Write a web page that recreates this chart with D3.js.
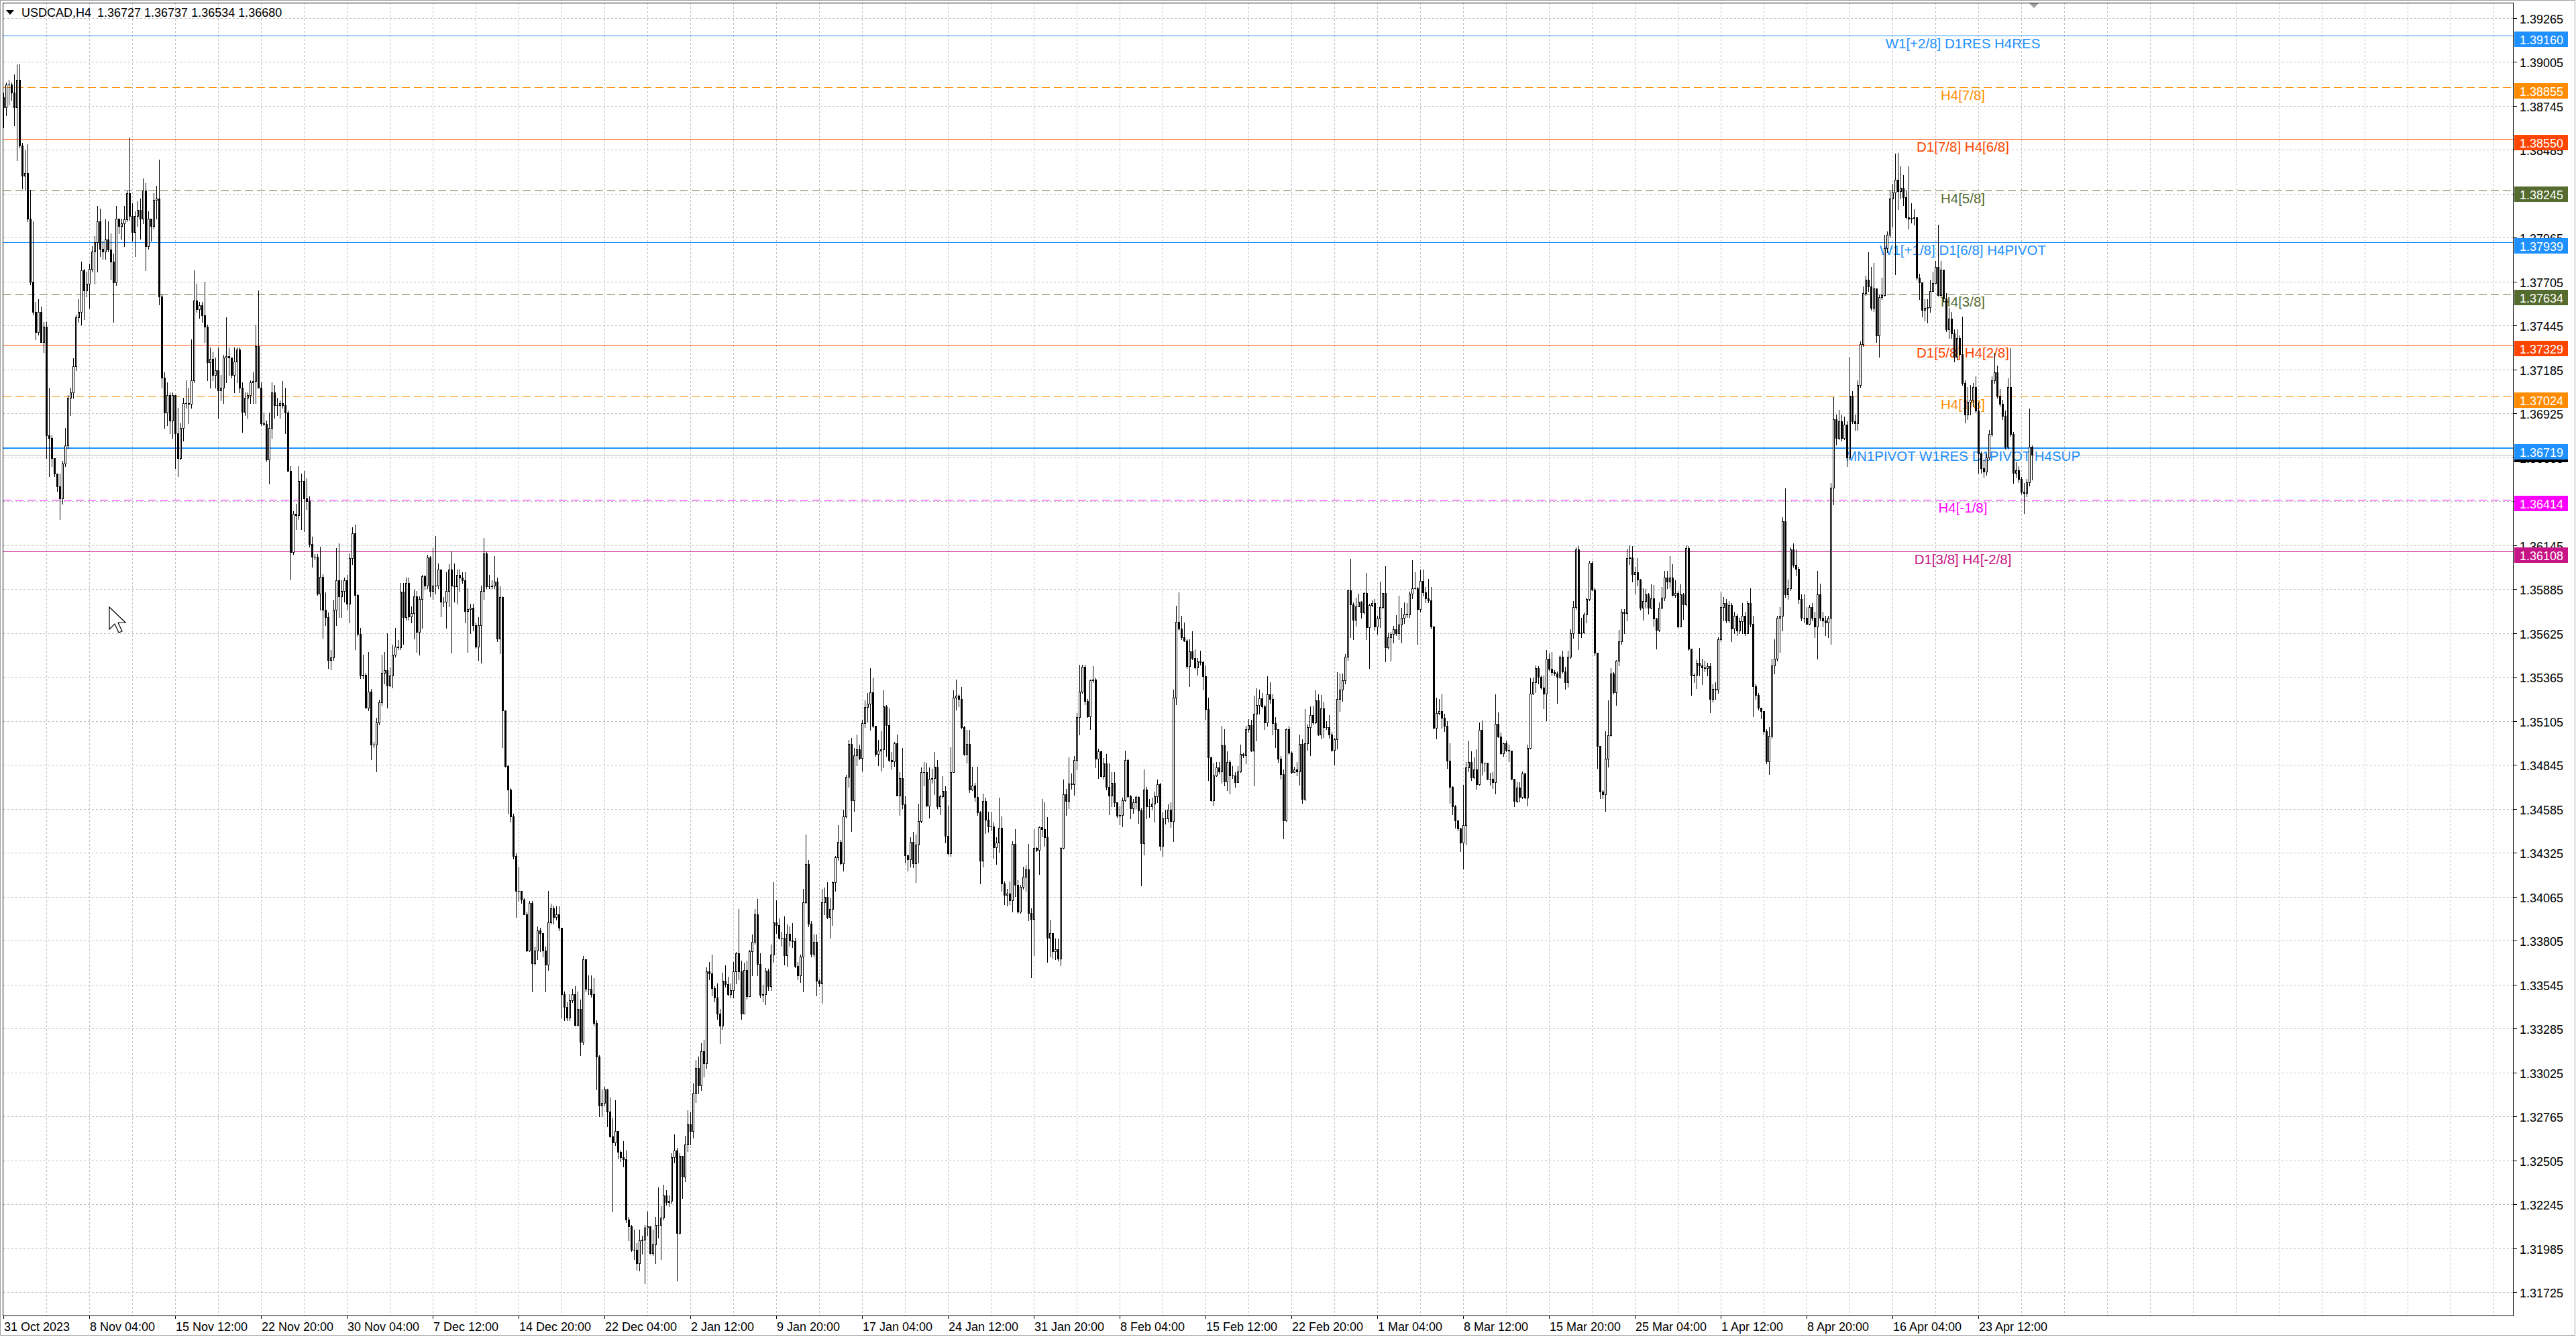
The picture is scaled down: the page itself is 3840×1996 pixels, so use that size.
<!DOCTYPE html>
<html><head><meta charset="utf-8">
<script src="https://cdn.jsdelivr.net/npm/d3@7"></script>
<style>html,body{margin:0;padding:0;background:#fff;overflow:hidden}svg{display:block}</style>
</head><body>
<svg id="c" width="3840" height="1996"></svg>
<script>
// ---------------- DATA ----------------
const symbolTitle = "USDCAD,H4";
const headerValues = ["1.36727", "1.36737", "1.36534", "1.36680"];
const firstOpen = 1.38794;
const closes = [
1.38735,1.38869,1.38869,1.38824,1.38735,1.38899,1.38511,1.38332,1.38347,1.38078,
1.37704,1.37525,1.37406,1.37525,1.37346,1.37436,1.36793,1.36778,1.36659,1.36569,
1.36495,1.36420,1.36629,1.36734,1.37017,1.37047,1.37202,1.37495,1.37525,1.37770,
1.37651,1.37690,1.37779,1.37884,1.37938,1.38063,1.37899,1.37884,1.37953,1.37893,
1.37824,1.37699,1.38078,1.38033,1.38048,1.38072,1.38227,1.38093,1.37997,1.38093,
1.38128,1.38078,1.38242,1.37914,1.38078,1.38033,1.38188,1.38197,1.37615,1.37137,
1.36928,1.37032,1.36883,1.37032,1.36808,1.36659,1.36838,1.36987,1.36987,1.36981,
1.37122,1.37594,1.37540,1.37564,1.37505,1.37436,1.37226,1.37247,1.37152,1.37181,
1.37062,1.37077,1.37256,1.37265,1.37256,1.37152,1.37232,1.37301,1.37077,1.36934,
1.37017,1.37032,1.37107,1.37116,1.37322,1.37077,1.36868,1.36862,1.36653,1.36838,
1.37047,1.36972,1.36972,1.36987,1.36972,1.36928,1.36584,1.36106,1.36330,1.36324,
1.36524,1.36524,1.36420,1.36405,1.36151,1.36076,1.36076,1.35858,1.35957,1.35763,
1.35718,1.35464,1.35479,1.35763,1.35938,1.35844,1.35875,1.35938,1.35797,1.36070,
1.36214,1.35850,1.35618,1.35373,1.35379,1.35184,1.35279,1.34965,1.34965,1.35097,
1.35216,1.35388,1.35404,1.35316,1.35373,1.35498,1.35545,1.35539,1.35869,1.35718,
1.35922,1.35724,1.35743,1.35844,1.35630,1.35828,1.35963,1.35906,1.36073,1.35875,
1.35906,1.35906,1.36001,1.35812,1.35812,1.35875,1.36001,1.35906,1.35900,1.35969,
1.35953,1.35938,1.35756,1.35765,1.35775,1.35671,1.35545,1.35671,1.35875,1.36095,
1.35900,1.35900,1.35906,1.35931,1.35592,1.35837,1.35169,1.34839,1.34698,1.34541,
1.34306,1.34101,1.34101,1.34048,1.33960,1.33747,1.34029,1.33671,1.33747,1.33866,
1.33850,1.33747,1.33662,1.33913,1.33998,1.33945,1.33960,1.33882,1.33489,1.33411,
1.33348,1.33452,1.33489,1.33307,1.33401,1.33207,1.33693,1.33521,1.33521,1.33489,
1.33317,1.33119,1.32830,1.32846,1.32924,1.32792,1.32648,1.32610,1.32679,1.32554,
1.32522,1.32510,1.32155,1.32114,1.31976,1.31976,1.31898,1.32030,1.32036,1.32108,
1.32114,1.31957,1.32008,1.32124,1.32124,1.32165,1.32297,1.32256,1.32265,1.32522,
1.32563,1.32077,1.32532,1.32407,1.32600,1.32720,1.32680,1.32900,1.33050,1.32950,
1.33150,1.33080,1.33624,1.33611,1.33525,1.33467,1.33373,1.33300,1.33569,1.33548,
1.33490,1.33514,1.33624,1.33730,1.33624,1.33373,1.33632,1.33475,1.33741,1.33796,
1.33961,1.33668,1.33486,1.33490,1.33628,1.33537,1.33721,1.33914,1.33898,1.33820,
1.33820,1.33718,1.33847,1.33804,1.33800,1.33655,1.33600,1.33710,1.34032,1.34259,
1.33906,1.33726,1.33796,1.33569,1.33553,1.34032,1.34063,1.33946,1.33993,1.34150,
1.34299,1.34390,1.34264,1.34542,1.34773,1.34970,1.34636,1.34903,1.34939,1.34887,
1.35091,1.35186,1.35206,1.35275,1.35076,1.34911,1.34930,1.34939,1.35193,1.35080,
1.34872,1.34864,1.34974,1.34663,1.34766,1.34613,1.34311,1.34286,1.34390,1.34264,
1.34374,1.34511,1.34801,1.34804,1.34605,1.34762,1.34766,1.34835,1.34600,1.34660,
1.34691,1.34424,1.34322,1.34804,1.35244,1.35253,1.35233,1.35068,1.34911,1.34970,
1.34699,1.34723,1.34657,1.34562,1.34280,1.34631,1.34522,1.34479,1.34482,1.34358,
1.34385,1.34471,1.34145,1.34076,1.34084,1.34045,1.34376,1.34137,1.33977,1.34123,
1.34181,1.34225,1.33969,1.33933,1.34353,1.34341,1.34477,1.34465,1.34417,1.33821,
1.33850,1.33743,1.33756,1.33697,1.34353,1.34672,1.34633,1.34736,1.34730,1.34872,
1.35126,1.35280,1.35427,1.35221,1.35133,1.35345,1.35351,1.34881,1.34925,1.34778,
1.34855,1.34713,1.34665,1.34739,1.34624,1.34544,1.34548,1.34637,1.34872,1.34660,
1.34589,1.34624,1.34654,1.34576,1.34381,1.34700,1.34598,1.34598,1.34615,1.34660,
1.34730,1.34367,1.34527,1.34530,1.34580,1.34513,1.35244,1.35693,1.35652,1.35599,
1.35581,1.35430,1.35516,1.35475,1.35422,1.35457,1.35452,1.35368,1.35174,1.34890,
1.34637,1.34784,1.34828,1.34807,1.34961,1.34748,1.34863,1.34784,1.34784,1.34743,
1.34807,1.34908,1.34902,1.35058,1.35080,1.34931,1.35147,1.35200,1.35239,1.35191,
1.35094,1.35262,1.35236,1.35090,1.35058,1.34881,1.34789,1.34518,1.35055,1.34917,
1.34801,1.34819,1.34807,1.34970,1.34642,1.34973,1.35067,1.35138,1.35097,1.35227,
1.35023,1.35179,1.35067,1.35067,1.35023,1.34934,1.34996,1.35236,1.35289,1.35345,
1.35484,1.35877,1.35794,1.35705,1.35783,1.35810,1.35748,1.35862,1.35660,1.35791,
1.35804,1.35665,1.35712,1.35778,1.35860,1.35541,1.35599,1.35620,1.35649,1.35625,
1.35675,1.35715,1.35739,1.35735,1.35857,1.35889,1.35891,1.35768,1.35932,1.35866,
1.35831,1.35818,1.35662,1.35063,1.35151,1.35165,1.35122,1.35076,1.34870,1.34714,
1.34598,1.34517,1.34467,1.34385,1.34488,1.34830,1.34862,1.34770,1.34817,1.34730,
1.35054,1.34857,1.34857,1.34764,1.34764,1.34743,1.35086,1.35011,1.34915,1.34971,
1.34932,1.34928,1.34764,1.34633,1.34712,1.34655,1.34793,1.34651,1.34945,1.35267,
1.35336,1.35419,1.35366,1.35304,1.35267,1.35471,1.35412,1.35392,1.35386,1.35366,
1.35485,1.35399,1.35336,1.35485,1.35625,1.35778,1.36120,1.35623,1.35627,1.35735,
1.35827,1.36041,1.35883,1.35507,1.34958,1.34688,1.34672,1.34883,1.35020,1.35386,
1.35274,1.35462,1.35577,1.35752,1.35744,1.36070,1.36073,1.35972,1.35985,1.35941,
1.35774,1.35814,1.35853,1.35774,1.35831,1.35712,1.35642,1.35774,1.35833,1.35952,
1.35928,1.35952,1.35849,1.35860,1.35665,1.35853,1.35794,1.36126,1.35533,1.35375,
1.35378,1.35450,1.35435,1.35422,1.35417,1.35428,1.35233,1.35296,1.35291,1.35587,
1.35777,1.35802,1.35701,1.35790,1.35650,1.35726,1.35638,1.35696,1.35726,1.35625,
1.35802,1.35681,1.35309,1.35258,1.35182,1.35164,1.35043,1.34866,1.35017,1.35435,
1.35473,1.35714,1.35726,1.36288,1.35853,1.35891,1.36119,1.36030,1.36005,1.35828,
1.35714,1.35714,1.35681,1.35777,1.35714,1.35663,1.35853,1.35714,1.35701,1.35688,
1.35714,1.36486,1.36891,1.36777,1.36878,1.36777,1.36860,1.36663,1.37030,1.36878,
1.36866,1.37093,1.37334,1.37638,1.37714,1.37676,1.37549,1.37663,1.37385,1.37612,
1.37625,1.37904,1.37980,1.38195,1.38233,1.38309,1.38238,1.38258,1.38202,1.38086,
1.38076,1.38081,1.38086,1.37726,1.37701,1.37536,1.37549,1.37554,1.37650,1.37696,
1.37790,1.37625,1.37777,1.37605,1.37422,1.37486,1.37397,1.37258,1.37372,1.37276,
1.37106,1.36916,1.36992,1.37005,1.37081,1.36942,1.36688,1.36600,1.36582,1.36663,
1.36802,1.37119,1.37169,1.37030,1.36980,1.36911,1.36726,1.37081,1.36802,1.36574,
1.36587,1.36536,1.36461,1.36455,1.36516,1.36727,1.36680];
const highs = [
1.38824,1.38884,1.38899,1.38884,1.38929,1.38989,1.38989,1.38526,1.38481,1.38517,
1.38248,1.38063,1.37585,1.37600,1.37555,1.37466,1.37466,1.37077,1.36793,1.36614,
1.36569,1.36569,1.36644,1.36838,1.37032,1.37077,1.37250,1.37510,1.37600,1.37824,
1.37779,1.37764,1.37809,1.37914,1.37973,1.38152,1.38137,1.37944,1.38072,1.38063,
1.37988,1.37869,1.38152,1.38048,1.38078,1.38152,1.38242,1.38556,1.38167,1.38122,
1.38182,1.38197,1.38316,1.38287,1.38122,1.38063,1.38227,1.38272,1.38427,1.37630,
1.37166,1.37107,1.37047,1.37047,1.37002,1.36958,1.36868,1.37017,1.37122,1.37077,
1.37361,1.37770,1.37690,1.37585,1.37585,1.37704,1.37451,1.37316,1.37286,1.37256,
1.37316,1.37152,1.37271,1.37495,1.37316,1.37256,1.37316,1.37316,1.37316,1.37107,
1.37047,1.37047,1.37122,1.37166,1.37451,1.37654,1.37107,1.36928,1.36883,1.36928,
1.37107,1.37092,1.37017,1.37002,1.37116,1.37077,1.36943,1.36614,1.36345,1.36390,
1.36614,1.36569,1.36584,1.36539,1.36435,1.36196,1.36091,1.36091,1.36136,1.35972,
1.35867,1.35748,1.35524,1.35823,1.36126,1.36157,1.35938,1.35953,1.35969,1.36095,
1.36252,1.36267,1.35859,1.35655,1.35498,1.35388,1.35514,1.35294,1.34980,1.35122,
1.35231,1.35498,1.35514,1.35624,1.35420,1.35555,1.35655,1.35586,1.35922,1.35922,
1.35953,1.35953,1.35781,1.35881,1.35875,1.35844,1.35969,1.35969,1.36088,1.36079,
1.36126,1.36198,1.36038,1.35938,1.35837,1.35985,1.36032,1.36110,1.36038,1.36001,
1.36001,1.35985,1.35985,1.35891,1.35797,1.35797,1.35687,1.35718,1.35906,1.36189,
1.36110,1.35969,1.35938,1.36079,1.35953,1.35900,1.35844,1.35169,1.34845,1.34707,
1.34557,1.34321,1.34243,1.34070,1.34054,1.33976,1.34039,1.34039,1.33772,1.33891,
1.33882,1.33841,1.33772,1.34101,1.34023,1.34007,1.34007,1.34007,1.33882,1.33505,
1.33442,1.33489,1.33521,1.33536,1.33505,1.33458,1.33715,1.33693,1.33599,1.33599,
1.33584,1.33332,1.33128,1.32924,1.32940,1.32930,1.32877,1.32752,1.32861,1.32626,
1.32563,1.32617,1.32563,1.32171,1.32124,1.32093,1.32014,1.32093,1.32061,1.32124,
1.32202,1.32114,1.32093,1.32171,1.32344,1.32234,1.32359,1.32328,1.32297,1.32548,
1.32657,1.32579,1.32548,1.32485,1.32650,1.32800,1.32790,1.32960,1.33100,1.33120,
1.33200,1.33220,1.33647,1.33679,1.33721,1.33537,1.33553,1.33400,1.33616,1.33658,
1.33592,1.33553,1.33679,1.33737,1.33993,1.33686,1.33674,1.33686,1.33749,1.33843,
1.33993,1.34051,1.33730,1.33542,1.33643,1.33639,1.33781,1.34150,1.34044,1.33938,
1.33859,1.33950,1.33903,1.33888,1.33909,1.33820,1.33679,1.33721,1.34110,1.34432,
1.34283,1.33922,1.33843,1.33843,1.33577,1.34110,1.34118,1.34150,1.34055,1.34157,
1.34307,1.34487,1.34401,1.34581,1.34785,1.34992,1.35005,1.34945,1.35024,1.34966,
1.35112,1.35225,1.35272,1.35419,1.35358,1.35055,1.34992,1.35044,1.35288,1.35201,
1.35178,1.34923,1.34981,1.35024,1.34801,1.34945,1.34660,1.34314,1.34416,1.34448,
1.34432,1.34616,1.34829,1.34861,1.34856,1.34829,1.34820,1.34923,1.34872,1.34668,
1.34777,1.34719,1.34605,1.34950,1.35288,1.35350,1.35264,1.35306,1.35076,1.35052,
1.35052,1.34832,1.34738,1.34835,1.34573,1.34675,1.34652,1.34566,1.34566,1.34503,
1.34416,1.34652,1.34542,1.34157,1.34110,1.34155,1.34394,1.34465,1.34163,1.34137,
1.34243,1.34252,1.34376,1.33995,1.34465,1.34358,1.34482,1.34642,1.34624,1.34535,
1.33928,1.33832,1.33818,1.33818,1.34358,1.34757,1.34704,1.34890,1.34796,1.34899,
1.35150,1.35439,1.35439,1.35439,1.35236,1.35351,1.35430,1.35356,1.34943,1.34931,
1.34885,1.34908,1.34855,1.34801,1.34801,1.34624,1.34598,1.34651,1.34931,1.34881,
1.34669,1.34642,1.34665,1.34660,1.34589,1.34819,1.34713,1.34642,1.34651,1.34686,
1.34757,1.34739,1.34562,1.34580,1.34612,1.34624,1.35292,1.35788,1.35865,1.35728,
1.35687,1.35590,1.35590,1.35634,1.35528,1.35475,1.35519,1.35462,1.35434,1.35244,
1.34895,1.34855,1.34863,1.34860,1.35076,1.35058,1.34925,1.34872,1.34837,1.34801,
1.34837,1.34966,1.34917,1.35076,1.35115,1.35111,1.35253,1.35298,1.35289,1.35271,
1.35200,1.35368,1.35333,1.35262,1.35129,1.35058,1.34899,1.34819,1.35062,1.35076,
1.34925,1.34832,1.34863,1.35023,1.34996,1.35174,1.35085,1.35191,1.35196,1.35285,
1.35262,1.35257,1.35218,1.35103,1.35138,1.35041,1.35005,1.35395,1.35386,1.35386,
1.35501,1.35882,1.36065,1.35806,1.35833,1.35857,1.35814,1.35866,1.35981,1.35800,
1.35820,1.35827,1.35728,1.35928,1.35862,1.36020,1.35629,1.35633,1.35669,1.35731,
1.35847,1.35774,1.35807,1.35804,1.35870,1.36055,1.35985,1.35899,1.36002,1.36002,
1.35897,1.35945,1.35899,1.35669,1.35241,1.35234,1.35261,1.35149,1.35103,1.34971,
1.34717,1.34606,1.34510,1.34471,1.34727,1.34862,1.34988,1.34925,1.34888,1.34938,
1.35096,1.35107,1.34859,1.34830,1.34800,1.34804,1.35261,1.35155,1.35037,1.34978,
1.34984,1.34965,1.34925,1.34760,1.34743,1.34741,1.34807,1.34800,1.34965,1.35359,
1.35362,1.35432,1.35428,1.35375,1.35373,1.35524,1.35504,1.35511,1.35406,1.35396,
1.35494,1.35520,1.35425,1.35520,1.35649,1.35814,1.36130,1.36139,1.35715,1.35748,
1.35833,1.36051,1.36051,1.35893,1.35471,1.34954,1.34695,1.35043,1.35228,1.35419,
1.35392,1.35467,1.35643,1.35765,1.35765,1.36123,1.36143,1.36139,1.36018,1.36068,
1.35945,1.35889,1.35886,1.35862,1.35912,1.35910,1.35715,1.35807,1.35899,1.35994,
1.35991,1.36081,1.36031,1.35936,1.35873,1.35915,1.35860,1.36143,1.36139,1.35533,
1.35386,1.35470,1.35536,1.35473,1.35461,1.35448,1.35448,1.35321,1.35334,1.35600,
1.35866,1.35840,1.35828,1.35815,1.35802,1.35752,1.35739,1.35714,1.35802,1.35752,
1.35815,1.35891,1.35726,1.35321,1.35271,1.35182,1.35157,1.35055,1.35068,1.35473,
1.35587,1.35726,1.35777,1.36309,1.36481,1.35942,1.36131,1.36157,1.36119,1.36018,
1.35853,1.35853,1.35777,1.35790,1.35802,1.35752,1.35992,1.35916,1.35752,1.35726,
1.35726,1.36511,1.37023,1.36916,1.36947,1.36916,1.36904,1.36878,1.37258,1.37055,
1.36916,1.37119,1.37352,1.37676,1.37739,1.37878,1.37790,1.37815,1.37663,1.37625,
1.37726,1.37980,1.38000,1.38245,1.38283,1.38460,1.38466,1.38385,1.38334,1.38245,
1.38385,1.38169,1.38131,1.38068,1.37752,1.37701,1.37600,1.37600,1.37714,1.37764,
1.37828,1.38043,1.37828,1.37777,1.37638,1.37549,1.37524,1.37422,1.37422,1.37385,
1.37498,1.37119,1.37081,1.37093,1.37106,1.37144,1.36992,1.36701,1.36650,1.36688,
1.36828,1.37144,1.37283,1.37207,1.37068,1.37005,1.36942,1.37131,1.37309,1.36815,
1.36638,1.36612,1.36549,1.36511,1.36536,1.36954,1.36737];
const lows = [
1.38615,1.38690,1.38750,1.38780,1.38630,1.38421,1.38496,1.38257,1.38242,1.38063,
1.37689,1.37510,1.37361,1.37391,1.37346,1.37287,1.36659,1.36554,1.36614,1.36554,
1.36465,1.36300,1.36390,1.36614,1.36719,1.36913,1.37017,1.37181,1.37466,1.37451,
1.37481,1.37615,1.37549,1.37764,1.37690,1.37764,1.37854,1.37839,1.37839,1.37884,
1.37719,1.37466,1.37684,1.37988,1.37958,1.37914,1.38063,1.38069,1.37944,1.37854,
1.38033,1.37958,1.38048,1.37773,1.37899,1.37944,1.38018,1.38078,1.37570,1.37077,
1.36838,1.36853,1.36808,1.36778,1.36599,1.36554,1.36653,1.36763,1.36958,1.36868,
1.36958,1.37107,1.37525,1.37490,1.37466,1.37346,1.37122,1.37077,1.37122,1.37077,
1.36898,1.37002,1.36987,1.37107,1.37152,1.37137,1.37047,1.37107,1.37047,1.36814,
1.36913,1.36898,1.36987,1.36987,1.36987,1.37077,1.36853,1.36853,1.36644,1.36510,
1.36778,1.36898,1.36913,1.36898,1.36958,1.36808,1.36584,1.35942,1.36091,1.36241,
1.36300,1.36241,1.36226,1.36360,1.36136,1.36016,1.36061,1.35852,1.35763,1.35598,
1.35673,1.35419,1.35410,1.35464,1.35671,1.35718,1.35718,1.35812,1.35765,1.35687,
1.36032,1.35530,1.35608,1.35357,1.35357,1.35184,1.35169,1.34877,1.34949,1.34808,
1.35084,1.35200,1.35326,1.35184,1.35310,1.35304,1.35483,1.35530,1.35530,1.35561,
1.35702,1.35702,1.35687,1.35592,1.35514,1.35498,1.35655,1.35881,1.35891,1.35844,
1.35828,1.35859,1.35891,1.35724,1.35781,1.35655,1.35781,1.35508,1.35812,1.35797,
1.35875,1.35922,1.35687,1.35514,1.35624,1.35640,1.35536,1.35467,1.35451,1.35828,
1.35891,1.35891,1.35891,1.35891,1.35577,1.35505,1.34949,1.34833,1.34557,1.34510,
1.34290,1.33945,1.34039,1.34029,1.33960,1.33741,1.33741,1.33505,1.33662,1.33693,
1.33741,1.33709,1.33505,1.33631,1.33904,1.33904,1.33929,1.33866,1.33348,1.33332,
1.33332,1.33332,1.33442,1.33301,1.33301,1.33128,1.33191,1.33505,1.33489,1.33474,
1.33301,1.32924,1.32767,1.32767,1.32830,1.32705,1.32642,1.32202,1.32595,1.32516,
1.32501,1.32469,1.32140,1.32030,1.31967,1.31920,1.31857,1.31851,1.31951,1.31779,
1.32061,1.31951,1.31945,1.31895,1.32046,1.31920,1.32155,1.32240,1.32234,1.32250,
1.32491,1.31794,1.32071,1.32281,1.32380,1.32560,1.32600,1.32640,1.32850,1.32900,
1.32920,1.33000,1.33050,1.33577,1.33482,1.33443,1.33341,1.33200,1.33280,1.33530,
1.33482,1.33467,1.33467,1.33553,1.33577,1.33341,1.33435,1.33459,1.33545,1.33600,
1.33784,1.33600,1.33467,1.33443,1.33428,1.33514,1.33514,1.33679,1.33851,1.33812,
1.33773,1.33663,1.33655,1.33773,1.33765,1.33647,1.33577,1.33561,1.33506,1.34024,
1.33891,1.33710,1.33710,1.33482,1.33537,1.33435,1.33961,1.33938,1.33820,1.33898,
1.34098,1.34283,1.34255,1.34220,1.34534,1.34715,1.34453,1.34573,1.34840,1.34879,
1.34809,1.35068,1.35099,1.35052,1.35068,1.34898,1.34840,1.34809,1.34829,1.34898,
1.34864,1.34820,1.34836,1.34663,1.34550,1.34589,1.34267,1.34217,1.34244,1.34239,
1.34150,1.34267,1.34503,1.34723,1.34600,1.34534,1.34738,1.34672,1.34589,1.34553,
1.34652,1.34385,1.34314,1.34307,1.34801,1.35170,1.35193,1.35060,1.34903,1.34856,
1.34683,1.34694,1.34631,1.34550,1.34145,1.34244,1.34440,1.34448,1.34456,1.34296,
1.34259,1.34330,1.34098,1.34019,1.34013,1.34022,1.33977,1.34066,1.33968,1.33968,
1.34110,1.34101,1.33924,1.33588,1.33720,1.34332,1.34199,1.34420,1.34367,1.33680,
1.33712,1.33703,1.33694,1.33685,1.33658,1.34349,1.34548,1.34589,1.34704,1.34668,
1.34819,1.35023,1.35271,1.35204,1.35129,1.35058,1.35333,1.34828,1.34766,1.34775,
1.34761,1.34700,1.34553,1.34601,1.34601,1.34536,1.34491,1.34482,1.34633,1.34651,
1.34527,1.34559,1.34589,1.34500,1.34133,1.34314,1.34527,1.34536,1.34580,1.34509,
1.34624,1.34341,1.34305,1.34495,1.34509,1.34477,1.34394,1.35204,1.35643,1.35590,
1.35576,1.35416,1.35310,1.35469,1.35413,1.35377,1.35439,1.35292,1.35115,1.34754,
1.34633,1.34606,1.34778,1.34796,1.34739,1.34722,1.34695,1.34677,1.34766,1.34713,
1.34748,1.34801,1.34890,1.34855,1.35041,1.34925,1.34722,1.34987,1.35147,1.35182,
1.35058,1.35076,1.35209,1.35023,1.34948,1.34863,1.34761,1.34411,1.34513,1.34908,
1.34793,1.34810,1.34784,1.34725,1.34619,1.34637,1.34934,1.34902,1.35085,1.35090,
1.35019,1.35002,1.35009,1.35058,1.35005,1.34925,1.34846,1.34943,1.35165,1.35221,
1.35328,1.35466,1.35600,1.35590,1.35669,1.35781,1.35715,1.35739,1.35590,1.35419,
1.35781,1.35642,1.35620,1.35660,1.35770,1.35458,1.35531,1.35462,1.35570,1.35610,
1.35590,1.35570,1.35682,1.35718,1.35718,1.35831,1.35886,1.35560,1.35752,1.35847,
1.35807,1.35807,1.35652,1.35059,1.35001,1.35142,1.35063,1.35044,1.34826,1.34620,
1.34554,1.34471,1.34458,1.34335,1.34230,1.34375,1.34807,1.34754,1.34767,1.34704,
1.34725,1.34787,1.34806,1.34760,1.34725,1.34708,1.34675,1.35007,1.34909,1.34896,
1.34925,1.34866,1.34760,1.34599,1.34622,1.34629,1.34648,1.34646,1.34602,1.34941,
1.35261,1.35274,1.35326,1.35296,1.35178,1.35109,1.35406,1.35373,1.35373,1.35212,
1.35359,1.35388,1.35296,1.35307,1.35478,1.35596,1.35768,1.35528,1.35599,1.35623,
1.35686,1.35820,1.35879,1.35491,1.34826,1.34649,1.34649,1.34570,1.34833,1.35015,
1.35265,1.35201,1.35432,1.35560,1.35623,1.35699,1.36031,1.35928,1.35857,1.35906,
1.35761,1.35704,1.35774,1.35739,1.35770,1.35669,1.35533,1.35636,1.35770,1.35820,
1.35889,1.35893,1.35847,1.35840,1.35656,1.35662,1.35708,1.35787,1.35524,1.35257,
1.35336,1.35300,1.35372,1.35321,1.35397,1.35372,1.35157,1.35220,1.35233,1.35271,
1.35575,1.35701,1.35688,1.35688,1.35575,1.35625,1.35612,1.35625,1.35625,1.35612,
1.35676,1.35663,1.35131,1.35233,1.35170,1.35119,1.35030,1.34853,1.34790,1.35005,
1.35385,1.35461,1.35511,1.35638,1.35840,1.35828,1.35878,1.36018,1.35967,1.35802,
1.35701,1.35688,1.35676,1.35676,1.35701,1.35600,1.35473,1.35701,1.35663,1.35612,
1.35600,1.35562,1.36385,1.36739,1.36769,1.36764,1.36769,1.36612,1.36650,1.36866,
1.36828,1.36828,1.37081,1.37321,1.37625,1.37650,1.37537,1.37529,1.37347,1.37258,
1.37600,1.37620,1.37878,1.37967,1.38030,1.37747,1.38131,1.38195,1.38157,1.38076,
1.38017,1.38055,1.38043,1.37714,1.37600,1.37498,1.37473,1.37460,1.37524,1.37650,
1.37696,1.37620,1.37612,1.37587,1.37410,1.37372,1.37372,1.37233,1.37245,1.37271,
1.37093,1.36871,1.36891,1.36916,1.36967,1.36929,1.36574,1.36574,1.36549,1.36562,
1.36650,1.36790,1.37106,1.37017,1.36967,1.36891,1.36714,1.36714,1.36790,1.36511,
1.36549,1.36516,1.36448,1.36334,1.36435,1.36498,1.36534];
const dateLabels = ["31 Oct 2023","8 Nov 04:00","15 Nov 12:00","22 Nov 20:00","30 Nov 04:00","7 Dec 12:00",
"14 Dec 20:00","22 Dec 04:00","2 Jan 12:00","9 Jan 20:00","17 Jan 04:00","24 Jan 12:00","31 Jan 20:00",
"8 Feb 04:00","15 Feb 12:00","22 Feb 20:00","1 Mar 04:00","8 Mar 12:00","15 Mar 20:00","25 Mar 04:00",
"1 Apr 12:00","8 Apr 20:00","16 Apr 04:00","23 Apr 12:00"];
const barsPerDateLabel = 32;
const priceTicks = ["1.39265","1.39005","1.38745","1.38485","1.38225","1.37965","1.37705","1.37445","1.37185",
"1.36925","1.36665","1.36405","1.36145","1.35885","1.35625","1.35365","1.35105","1.34845","1.34585","1.34325",
"1.34065","1.33805","1.33545","1.33285","1.33025","1.32765","1.32505","1.32245","1.31985","1.31725"];
const levelPrices = [1.39160,1.38855,1.38550,1.38245,1.37939,1.37634,1.37329,1.37024,1.36719,1.36414,1.36108];
const levelNames = ["W1[+2/8] D1RES H4RES","H4[7/8]","D1[7/8] H4[6/8]","H4[5/8]","W1[+1/8] D1[6/8] H4PIVOT",
"H4[3/8]","D1[5/8] H4[2/8]","H4[1/8]","MN1PIVOT W1RES D1PIVOT H4SUP","H4[-1/8]","D1[3/8] H4[-2/8]"];
const bidPrice = 1.36680;

// ---------------- STYLE ----------------
const levelColors = ["#1E90FF","#FF8C00","#FF4500","#556B2F","#1E90FF","#556B2F","#FF4500","#FF8C00","#1E90FF","#FF00FF","#C71585"];
const levelDashed = [false,true,false,true,false,true,false,true,false,true,false];
const levelWidth  = [1,1,1,1,1,1,1,1,2,1,1];
const FONT = "'Liberation Sans', Arial, sans-serif";

// ---------------- DRAW ----------------
const svg = d3.select('#c');
const plotL = 5, plotR = 3746, plotT = 4, plotB = 1961;
const nBars = closes.length;
const x = d3.scaleLinear().domain([0, 1]).range([5, 9]);          // pixel column of bar i
const y = d3.scaleLinear().domain([1.39265, 1.31725]).range([26.7, 1926.2]);
const ry = v => Math.round(y(v));

svg.append('rect').attr('width',3840).attr('height',1996).attr('fill','#fff');

const grid = svg.append('g').attr('shape-rendering','crispEdges').attr('stroke','#c0c0c0').attr('stroke-dasharray','3,3');
priceTicks.forEach(t => {
  const yy = ry(+t) + 0.5;
  grid.append('line').attr('x1',plotL).attr('x2',plotR).attr('y1',yy).attr('y2',yy);
});
for (let k = 1; 5 + 64*k < plotR; k++) {
  const xx = Math.round(x(16*k)) + 0.5;
  grid.append('line').attr('x1',xx).attr('x2',xx).attr('y1',plotT).attr('y2',plotB);
}

// bid line
svg.append('line').attr('shape-rendering','crispEdges').attr('x1',plotL).attr('x2',plotR)
  .attr('y1',ry(bidPrice)+0.5).attr('y2',ry(bidPrice)+0.5).attr('stroke','#c0c0c0');

// level lines
const lv = svg.append('g').attr('shape-rendering','crispEdges');
levelPrices.forEach((p,i) => {
  const yy = ry(p) + (levelWidth[i] === 2 ? 0 : 0.5);
  lv.append('line').attr('x1',plotL).attr('x2',plotR).attr('y1',yy).attr('y2',yy)
    .attr('stroke',levelColors[i]).attr('stroke-width',levelWidth[i])
    .attr('stroke-dasharray',levelDashed[i] ? '12,6' : null);
});
// level texts
levelPrices.forEach((p,i) => {
  svg.append('text').attr('x',2926).attr('y',ry(p)+19).attr('text-anchor','middle')
    .attr('font-family',FONT).attr('font-size',20.5).attr('fill',levelColors[i]).text(levelNames[i]);
});

// candles
const bars = d3.range(nBars).map(i => {
  const o = i === 0 ? firstOpen : closes[i-1];
  const c = closes[i];
  return {i, o, c, h: Math.max(highs[i], o, c), l: Math.min(lows[i], o, c)};
});
const cg = svg.append('g').attr('shape-rendering','crispEdges');
const g = cg.selectAll('g').data(bars).join('g');
g.append('line')
  .attr('x1', d => Math.round(x(d.i)) + 0.5).attr('x2', d => Math.round(x(d.i)) + 0.5)
  .attr('y1', d => ry(d.h)).attr('y2', d => ry(d.l) + 1).attr('stroke','#000');
g.each(function(d){
  const col = Math.round(x(d.i));
  const t = ry(Math.max(d.o,d.c)), b = ry(Math.min(d.o,d.c));
  const s = d3.select(this);
  if (b - t < 1) {
    s.append('line').attr('x1',col-1).attr('x2',col+2).attr('y1',t+0.5).attr('y2',t+0.5).attr('stroke','#000');
  } else {
    s.append('rect').attr('x',col-0.5).attr('y',t+0.5).attr('width',2).attr('height',b-t)
      .attr('fill', d.c >= d.o ? '#fff' : '#000').attr('stroke','#000');
  }
});

// frame
const fr = svg.append('g').attr('shape-rendering','crispEdges').attr('stroke','#000');
fr.append('line').attr('x1',plotL-1+0.5).attr('x2',plotL-1+0.5).attr('y1',plotT).attr('y2',plotB+1);
fr.append('line').attr('x1',plotL-1).attr('x2',plotR+1).attr('y1',plotT+0.5).attr('y2',plotT+0.5);
fr.append('line').attr('x1',plotR+0.5).attr('x2',plotR+0.5).attr('y1',plotT).attr('y2',plotB+1);
fr.append('line').attr('x1',plotL-1).attr('x2',plotR+1).attr('y1',plotB+0.5).attr('y2',plotB+0.5);
// window border
svg.append('rect').attr('x',0.5).attr('y',0.5).attr('width',3838).attr('height',1990)
  .attr('fill','none').attr('stroke','#a0a0a0').attr('shape-rendering','crispEdges');
// shift marker
svg.append('path').attr('d','M3025,5 L3039,5 L3032,12 Z').attr('fill','#a0a0a0');

// price axis
const ax = svg.append('g');
priceTicks.forEach(t => {
  const yy = ry(+t);
  ax.append('line').attr('shape-rendering','crispEdges').attr('x1',plotR+1).attr('x2',plotR+6)
    .attr('y1',yy+0.5).attr('y2',yy+0.5).attr('stroke','#000');
  ax.append('text').attr('x',3756).attr('y',yy+7.5).attr('font-family',FONT).attr('font-size',18)
    .attr('fill','#000').text(t);
});
// bid label (mostly hidden)
ax.append('rect').attr('x',3748).attr('y',ry(bidPrice)-10).attr('width',80).attr('height',21).attr('fill','#000');
levelPrices.forEach((p,i) => {
  const yy = ry(p);
  ax.append('rect').attr('x',3748).attr('y',yy-6).attr('width',80).attr('height',23).attr('fill',levelColors[i]);
  ax.append('text').attr('x',3756).attr('y',yy+12.5).attr('font-family',FONT).attr('font-size',18)
    .attr('fill','#fff').text(p.toFixed(5));
});

// time axis
const tx = svg.append('g');
dateLabels.forEach((lab,k) => {
  const col = Math.round(x(k*barsPerDateLabel));
  tx.append('line').attr('shape-rendering','crispEdges').attr('x1',col+0.5).attr('x2',col+0.5)
    .attr('y1',plotB+1).attr('y2',plotB+5).attr('stroke','#000');
  tx.append('text').attr('x',col+1).attr('y',1983.5).attr('font-family',FONT).attr('font-size',18)
    .attr('fill','#000').text(lab);
});

// header
svg.append('path').attr('d','M9,15 L21,15 L15,22 Z').attr('fill','#000');
svg.append('text').attr('x',32).attr('y',25).attr('font-family',FONT).attr('font-size',18).attr('fill','#000').text(symbolTitle);
svg.append('text').attr('x',145).attr('y',25).attr('font-family',FONT).attr('font-size',18).attr('fill','#000').text(headerValues.join(' '));

// mouse cursor
svg.append('path').attr('transform','translate(163,905)')
  .attr('d','M0,0 L0,33 L8,25 L14,38 L19,36 L13,23 L24,23 Z')
  .attr('fill','#fff').attr('stroke','#000').attr('stroke-width',1.2);
</script>
</body></html>
